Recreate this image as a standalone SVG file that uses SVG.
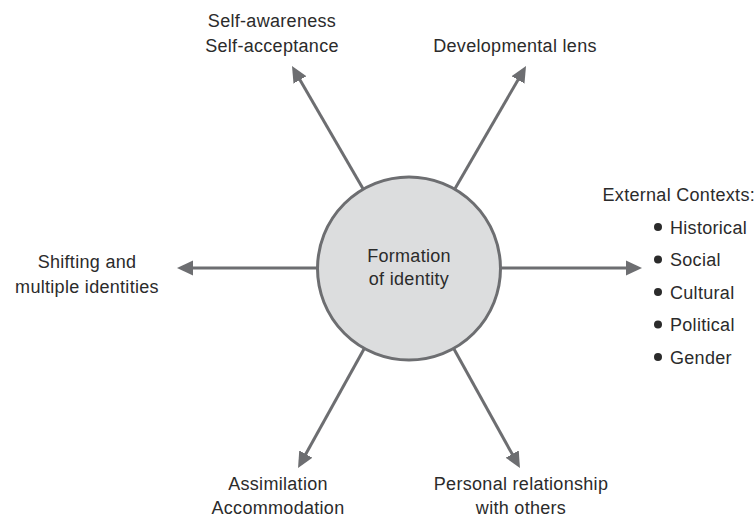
<svg xmlns="http://www.w3.org/2000/svg" width="756" height="517" viewBox="0 0 756 517">
<defs>
<style>
text{font-family:"Liberation Sans",Arial,sans-serif;font-size:18px;fill:#2b2b2b;letter-spacing:0.3px}
.c{text-anchor:middle}
.ln{stroke:#6d6e71;stroke-width:3;fill:none;marker-end:url(#ah)}
</style>
<marker id="ah" markerUnits="userSpaceOnUse" markerWidth="16" markerHeight="16" viewBox="0 0 16 16" refX="6" refY="8" orient="auto">
<path d="M0,0.5 L16,8 L0,15.5 z" fill="#6d6e71"/>
</marker>
</defs>
<rect width="756" height="517" fill="#ffffff"/>
<g id="connectors">
<line class="ln" x1="362.9" y1="188.4" x2="297" y2="74.7"/>
<line class="ln" x1="455.1" y1="188.4" x2="521" y2="74.7"/>
<line class="ln" x1="317" y1="268" x2="187" y2="268"/>
<line class="ln" x1="501" y1="268" x2="632" y2="268"/>
<line class="ln" x1="364.3" y1="348.4" x2="302.9" y2="459.3"/>
<line class="ln" x1="453.7" y1="348.4" x2="515.1" y2="459.3"/>
</g>
<g id="center">
<circle cx="409" cy="268.5" r="91.5" fill="#dcddde" stroke="#6d6e71" stroke-width="3"/>
<text class="c" x="409" y="262">Formation</text>
<text class="c" x="409" y="285">of identity</text>
</g>
<g id="self">
<text class="c" x="272" y="26.5">Self-awareness</text>
<text class="c" x="272" y="51.5">Self-acceptance</text>
</g>
<g id="developmental">
<text class="c" x="515" y="51.5">Developmental lens</text>
</g>
<g id="shifting">
<text class="c" x="87" y="267.5">Shifting and</text>
<text class="c" x="87" y="292.5">multiple identities</text>
</g>
<g id="external">
<text x="755" y="201" style="text-anchor:end">External Contexts:</text>
<g fill="#2b2b2b">
<circle cx="658" cy="227" r="4"/>
<circle cx="658" cy="259.5" r="4"/>
<circle cx="658" cy="292" r="4"/>
<circle cx="658" cy="324.5" r="4"/>
<circle cx="658" cy="357" r="4"/>
</g>
<text x="670" y="233.5">Historical</text>
<text x="670" y="266">Social</text>
<text x="670" y="298.5">Cultural</text>
<text x="670" y="331">Political</text>
<text x="670" y="363.5">Gender</text>
</g>
<g id="assimilation">
<text class="c" x="278" y="489.5">Assimilation</text>
<text class="c" x="278" y="514">Accommodation</text>
</g>
<g id="personal">
<text class="c" x="521" y="489.5">Personal relationship</text>
<text class="c" x="521" y="514">with others</text>
</g>
</svg>
